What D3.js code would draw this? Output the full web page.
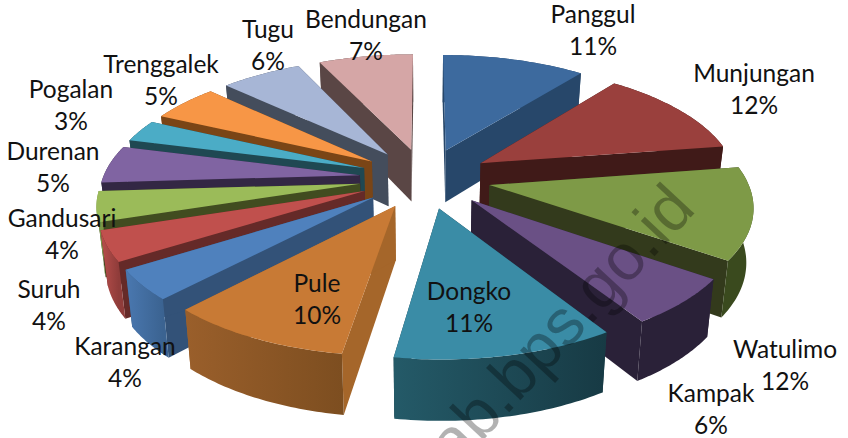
<!DOCTYPE html>
<html><head><meta charset="utf-8">
<script src="https://cdn.jsdelivr.net/npm/d3@7"></script>
<style>html,body{margin:0;padding:0;background:#fff;overflow:hidden}</style></head>
<body><svg id="c" width="848" height="438"></svg>
<script>
const categories=["Panggul","Munjungan","Watulimo","Kampak","Dongko","Pule","Karangan","Suruh","Gandusari","Durenan","Pogalan","Trenggalek","Tugu","Bendungan"];
const values=[10.6,12,12.2,6.2,11.45,9.6,4,4,4,5,3,5,6,7];
const topColors=["#3d6a9e","#9a403d","#7e9a47","#6a5085","#3a8ca6","#c87a35","#4f81bd","#c0504d","#9bbb59","#8064a2","#4bacc6","#f79646","#a7b6d6","#d5a6a6"];
const cutColors=["#27476a","#401a18","#333a1c","#2a2138","#1a3c46","#a5662a","#335278","#652a28","#414c20","#332744","#1f4852","#7a4516","#444d5c","#5a4645"];
const rimLeft=["#27476a","#401a18","#3a4a1e","#2a2138","#245a68","#9a5f2b","#4a78b0","#b94f4c","#7a9546","#332744","#1f4852","#7a4516","#444d5c","#5a4645"];
const rimRight=["#27476a","#401a18","#3a4a1e","#2a2138","#173a44","#7d4e20","#3b6391","#8f3c3a","#7a9546","#332744","#1f4852","#7a4516","#444d5c","#5a4645"];
const labelX=[593,754,785,711,469,317,125,49,62,53,71,161,268,366];
const labelY=[15,74,350,394,292,284,347,290,219,152,90,65,30,20];
const watermark="lab.bps.go.id";

const cx=425,cy=178,R=257,E=65.6,C=0.458,D=1696,H=53,shrink=0.978;
const pie=d3.pie().sort(null).value(d=>d);
const arcs=pie(values);
function proj(x,y,bottom){
  const s=D/(D+y), k=bottom?shrink:1;
  return [cx+x*s*k, cy-y*C*s*k+(bottom?H*s:0)];
}
function geom(d){
  const m=(d.startAngle+d.endAngle)/2;
  const ox=E*Math.sin(m), oy=E*Math.cos(m);
  const pt=(a,r,b)=>proj(ox+r*Math.sin(a),oy+r*Math.cos(a),b);
  const n=40;
  const angs=d3.range(n+1).map(i=>d.startAngle+(d.endAngle-d.startAngle)*i/n);
  return {apex:b=>pt(0,0,b),rim:b=>angs.map(a=>pt(a,R,b)),ay:pt(0,0,false)[1]};
}
const path=pts=>d3.line()(pts)+"Z";
const svg=d3.select("#c");
const defs=svg.append("defs");
const order=d3.range(arcs.length).map(i=>({i,g:geom(arcs[i])})).sort((a,b)=>a.g.ay-b.g.ay);
const gSlices=svg.append("g");
order.forEach(({i,g})=>{
  const sl=gSlices.append("g").attr("class","slice");
  const topRim=g.rim(false),botRim=g.rim(true);
  const a0=g.apex(false),a1=g.apex(true);
  const xs=topRim.map(p=>p[0]);
  const gid="rim"+i;
  const lg=defs.append("linearGradient").attr("id",gid).attr("gradientUnits","userSpaceOnUse")
    .attr("x1",d3.min(xs)).attr("x2",d3.max(xs)).attr("y1",0).attr("y2",0);
  lg.append("stop").attr("offset",0).attr("stop-color",rimLeft[i]);
  lg.append("stop").attr("offset",1).attr("stop-color",rimRight[i]);
  sl.append("path").attr("d",path([a0,topRim[0],botRim[0],a1])).attr("fill",cutColors[i]);
  sl.append("path").attr("d",path([a0,topRim[topRim.length-1],botRim[botRim.length-1],a1])).attr("fill",cutColors[i]);
  sl.append("path").attr("d",path(topRim.concat(botRim.slice().reverse()))).attr("fill",`url(#${gid})`);
  sl.append("path").attr("d",path([a0].concat(topRim))).attr("fill",topColors[i]);
});
const gl=svg.append("g").attr("font-family","Lato, 'Open Sans', sans-serif").attr("font-size",24.5).attr("fill","#111").attr("text-anchor","middle");
categories.forEach((c,i)=>{
  const t=gl.append("text").attr("x",labelX[i]).attr("y",labelY[i]+8);
  t.append("tspan").attr("x",labelX[i]).text(c);
  t.append("tspan").attr("x",labelX[i]).attr("dy",32).text(Math.round(values[i])+"%");
});
svg.append("text").attr("transform","translate(446,480) rotate(-47)")
  .attr("font-family","'Liberation Sans',sans-serif").attr("font-size",65)
  .attr("fill","#000").attr("fill-opacity",0.3).text(watermark);
</script></body></html>
